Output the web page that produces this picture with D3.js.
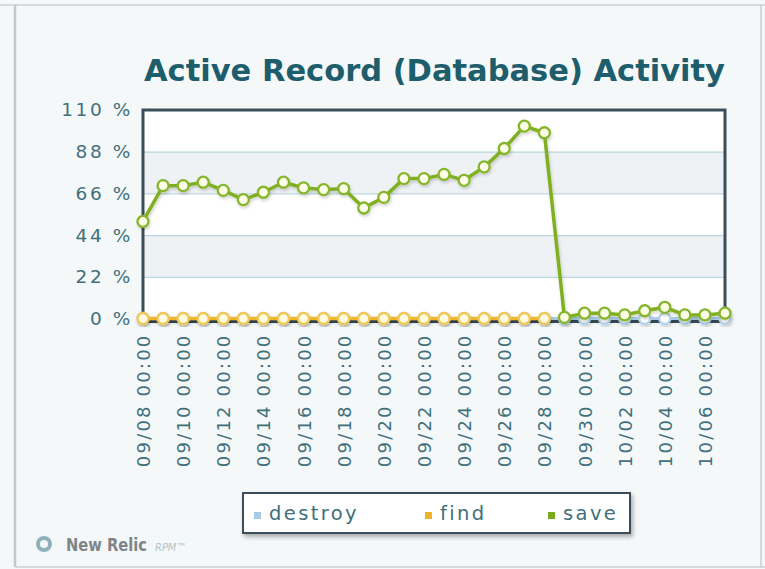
<!DOCTYPE html>
<html>
<head>
<meta charset="utf-8">
<script src="https://cdn.jsdelivr.net/npm/d3@7"></script>
<style>
  html, body { margin: 0; padding: 0; background: #f4f8f9; }
  svg { display: block; }
</style>
</head>
<body>
<div id="chart"></div>
<script>

// data (percent of time per day)
const dates = ["09/08 00:00","09/09 00:00","09/10 00:00","09/11 00:00","09/12 00:00","09/13 00:00",
  "09/14 00:00","09/15 00:00","09/16 00:00","09/17 00:00","09/18 00:00","09/19 00:00","09/20 00:00",
  "09/21 00:00","09/22 00:00","09/23 00:00","09/24 00:00","09/25 00:00","09/26 00:00","09/27 00:00",
  "09/28 00:00","09/29 00:00","09/30 00:00","10/01 00:00","10/02 00:00","10/03 00:00","10/04 00:00",
  "10/05 00:00","10/06 00:00","10/07 00:00"];

const saveValues = [51.2, 70.1, 70.1, 71.9, 67.6, 62.7, 66.6, 71.9, 68.9, 68.0, 68.5, 58.3, 63.9, 73.8, 73.8,
  76.0, 72.9, 80.0, 89.7, 101.5, 98.0, 0.6, 2.8, 2.8, 1.9, 4.1, 5.9, 1.9, 1.9, 2.8];
const findValues = [0,0,0,0,0,0,0,0,0,0,0,0,0,0,0,0,0,0,0,0,0, null,null,null,null,null,null,null,null,null];
const destroyValues = [0,0,0,0,0,0,0,0,0,0,0,0,0,0,0,0,0,0,0,0,0,0,0,0,0,0,0,0,0,0];

const yTicks = [0, 22, 44, 66, 88, 110];
const seriesNames = ["destroy", "find", "save"];

const W = 765, H = 569;
const plot = {left: 143, right: 725, top: 110, bottom: 318.5};
const labelFont = "'DejaVu Sans', Verdana, sans-serif";

const svg = d3.select("#chart").append("svg")
  .attr("width", W)
  .attr("height", H);

const defs = svg.append("defs");
defs.append("filter").attr("id", "shadow")
  .attr("x", "-20%").attr("y", "-20%").attr("width", "140%").attr("height", "140%")
  .append("feDropShadow")
  .attr("dx", 1).attr("dy", 2).attr("stdDeviation", 1.5)
  .attr("flood-color", "#000").attr("flood-opacity", 0.18);
defs.append("filter").attr("id", "boxshadow")
  .attr("x", "-10%").attr("y", "-30%").attr("width", "120%").attr("height", "170%")
  .append("feDropShadow")
  .attr("dx", 2).attr("dy", 3).attr("stdDeviation", 2)
  .attr("flood-color", "#000").attr("flood-opacity", 0.3);

// outer frame
svg.append("rect").attr("width", W).attr("height", H).attr("fill", "#f4f8f9");
svg.append("line").attr("x1", 0).attr("x2", W).attr("y1", 5).attr("y2", 5)
  .attr("stroke", "#cdd1d2").attr("stroke-width", 1.5);
svg.append("line").attr("x1", 15).attr("x2", 15).attr("y1", 5).attr("y2", 567)
  .attr("stroke", "#c4c8c9").attr("stroke-width", 2.5);
svg.append("line").attr("x1", 761).attr("x2", 761).attr("y1", 5).attr("y2", 567)
  .attr("stroke", "#cdd1d2").attr("stroke-width", 1.5);
svg.append("line").attr("x1", 15).attr("x2", W).attr("y1", 567).attr("y2", 567)
  .attr("stroke", "#cdd1d2").attr("stroke-width", 1.5);

// title
svg.append("text")
  .attr("x", 144).attr("y", 81)
  .attr("textLength", 581)
  .attr("lengthAdjust", "spacingAndGlyphs")
  .style("font-family", "'DejaVu Sans Condensed', 'DejaVu Sans', sans-serif")
  .style("font-weight", "bold")
  .style("font-size", "31px")
  .attr("fill", "#1d5d6c")
  .text("Active Record (Database) Activity");

// scales
const x = d3.scalePoint().domain(dates).range([plot.left, plot.right]);
const y = d3.scaleLinear().domain([0, 110]).range([plot.bottom, plot.top]);

// alternating bands
const g = svg.append("g");
g.selectAll(".band")
  .data(d3.pairs(yTicks))
  .enter().append("rect")
  .attr("class", "band")
  .attr("x", plot.left)
  .attr("width", plot.right - plot.left)
  .attr("y", d => y(d[1]))
  .attr("height", d => y(d[0]) - y(d[1]))
  .attr("fill", (d, i) => i % 2 === 0 ? "#ffffff" : "#eef2f5");

// grid lines + y labels
const yAxis = d3.axisLeft(y)
  .tickValues(yTicks)
  .tickSize(-(plot.right - plot.left))
  .tickFormat(d => d + " %");

const yg = g.append("g")
  .attr("class", "y-axis")
  .attr("transform", "translate(" + plot.left + ",0)")
  .call(yAxis);
yg.select(".domain").remove();
yg.selectAll(".tick line").attr("stroke", "#bcd6df").attr("stroke-width", 1.2);
yg.selectAll(".tick text")
  .attr("fill", "#41707c")
  .attr("x", -10)
  .style("font-family", labelFont)
  .style("font-size", "18.5px")
  .style("letter-spacing", "2.6px");

// plot frame
g.append("path")
  .attr("d", "M" + plot.left + "," + (plot.bottom + 2) + "V" + plot.top + "H" + plot.right + "V" + (plot.bottom + 2))
  .attr("fill", "none")
  .attr("stroke", "#3b4e59")
  .attr("stroke-width", 3);
g.append("line")
  .attr("x1", plot.left).attr("x2", plot.right)
  .attr("y1", plot.bottom + 3).attr("y2", plot.bottom + 3)
  .attr("stroke", "#3b4e59").attr("stroke-width", 3);

// x axis labels (every second day)
const xAxis = d3.axisBottom(x)
  .tickValues(dates.filter((d, i) => i % 2 === 0))
  .tickSize(0);
const xg = g.append("g")
  .attr("class", "x-axis")
  .attr("transform", "translate(0," + plot.bottom + ")")
  .call(xAxis);
xg.select(".domain").remove();
xg.selectAll(".tick text")
  .attr("transform", "rotate(-90)")
  .attr("x", -15)
  .attr("y", 0)
  .attr("dy", "0.36em")
  .attr("text-anchor", "end")
  .attr("fill", "#41707c")
  .style("font-family", labelFont)
  .style("font-size", "18px")
  .style("letter-spacing", "2.2px");

// series
const series = [
  {name: "destroy", values: destroyValues, line: "#a9cbe6", stroke: "#b5d3ea", fill: "#ffffff", width: 3},
  {name: "find", values: findValues, line: "#ecb833", stroke: "#f1c856", fill: "#fffbe3", width: 3.5},
  {name: "save", values: saveValues, line: "#80b022", stroke: "#86b52b", fill: "#fbfde6", width: 3.5}
];

const line = d3.line()
  .defined(d => d.v !== null)
  .x(d => x(d.date))
  .y(d => y(d.v));

series.forEach(s => {
  const pts = dates.map((d, i) => ({date: d, v: s.values[i]}));
  const sg = g.append("g").attr("class", "series-" + s.name).attr("filter", "url(#shadow)");
  sg.append("path")
    .datum(pts)
    .attr("d", line)
    .attr("fill", "none")
    .attr("stroke", s.line)
    .attr("stroke-width", s.width)
    .attr("stroke-linejoin", "round");
  sg.selectAll("circle")
    .data(pts.filter(p => p.v !== null))
    .enter().append("circle")
    .attr("cx", d => x(d.date))
    .attr("cy", d => y(d.v))
    .attr("r", 5.5)
    .attr("fill", s.fill)
    .attr("stroke", s.stroke)
    .attr("stroke-width", 2.3);
});

// legend
const legend = svg.append("g").attr("transform", "translate(243,493)");
legend.append("rect")
  .attr("width", 387).attr("height", 40)
  .attr("fill", "#ffffff")
  .attr("stroke", "#3b4e59")
  .attr("stroke-width", 2)
  .attr("filter", "url(#boxshadow)");
const legendX = [11, 182, 305];
const legendColors = ["#a9cbe6", "#efb326", "#7aaa1e"];
const item = legend.selectAll(".item")
  .data(seriesNames)
  .enter().append("g")
  .attr("class", "item")
  .attr("transform", (d, i) => "translate(" + legendX[i] + ",0)");
item.append("rect")
  .attr("x", 0).attr("y", 19)
  .attr("width", 7).attr("height", 7)
  .attr("fill", (d, i) => legendColors[i]);
item.append("text")
  .attr("x", 15).attr("y", 27)
  .attr("fill", "#41707c")
  .style("font-family", labelFont)
  .style("font-size", "19.5px")
  .style("letter-spacing", "2.4px")
  .text(d => d);

// New Relic badge
const badge = svg.append("g").attr("transform", "translate(0,544)");
badge.append("circle").attr("cx", 44).attr("cy", 0).attr("r", 6)
  .attr("fill", "none").attr("stroke", "#8fb0ba").attr("stroke-width", 4);
badge.append("text")
  .attr("x", 66).attr("y", 7)
  .attr("fill", "#7d8588")
  .style("font-family", "'DejaVu Sans Condensed', sans-serif")
  .style("font-weight", "bold")
  .style("font-size", "17px")
  .attr("textLength", 81)
  .attr("lengthAdjust", "spacingAndGlyphs")
  .text("New Relic");
badge.append("text")
  .attr("x", 155).attr("y", 7)
  .attr("fill", "#b5c4c8")
  .style("font-family", "'DejaVu Sans Condensed', sans-serif")
  .style("font-style", "italic")
  .style("font-size", "11px")
  .text("RPM\u2122");

</script>
</body>
</html>
